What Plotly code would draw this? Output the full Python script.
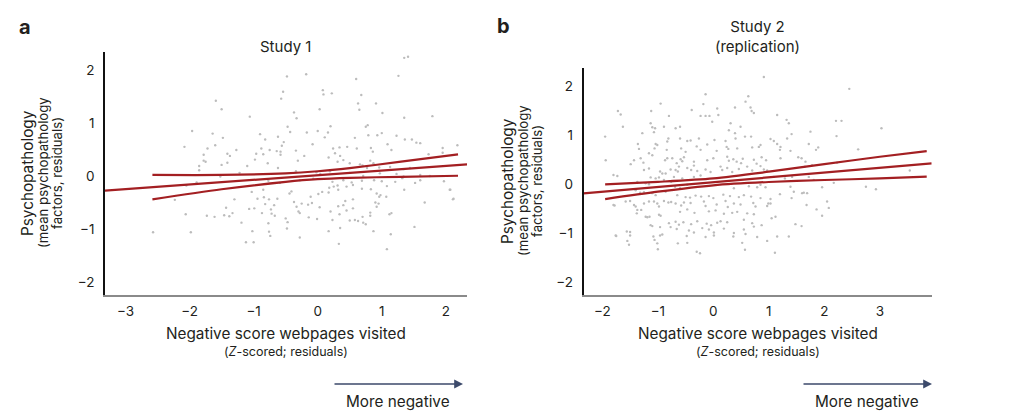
import plotly.graph_objects as go

W, H = 1013, 418

# ---------------- data ----------------
# Study 1 scatter
s1_x = [-1.59,-1.50,-1.96,-1.64,-1.48,-2.08,-1.72,-1.60,-1.78,-1.41,-1.78,-1.75,-1.85,-1.50,-1.85,-1.41,-1.52,-1.89,-2.05,-2.23,
        -1.43,-2.06,-1.73,-1.61,-1.46,-1.38,-2.57,-1.98,
        -0.48,-0.18,-0.54,-0.57,0.08,0.09,0.22,-1.06,-0.37,-0.33,0.03,-0.47,-0.43,-0.17,0.00,0.16,0.20,-0.90,-0.82,-0.62,-0.53,-0.56,
        0.11,-0.08,-1.27,-0.96,-0.85,-0.98,-0.88,-0.75,-0.64,-0.58,-0.58,-0.34,-0.31,-0.21,0.17,0.24,0.27,0.34,0.35,0.40,
        0.46,0.31,-1.37,-1.10,-0.78,-0.62,-0.34,-0.02,0.04,0.19,-1.22,-0.77,-0.59,-0.28,-0.07,0.23,0.31,0.40,0.45,-1.03,
        -0.85,-0.44,-0.41,-1.30,-0.94,-0.84,-0.76,-0.63,-0.11,0.01,0.07,0.17,0.18,0.25,0.32,-0.82,-0.68,-0.37,-0.33,-0.25,
        -0.15,-0.09,0.43,0.40,0.32,-1.33,-1.07,-0.99,-0.87,-0.73,-0.72,-0.67,-0.30,-0.28,0.03,-1.19,-0.77,-0.50,-0.47,-0.14,
        -0.01,0.20,0.34,0.23,0.45,-1.02,-0.76,-0.74,-0.28,-0.48,0.17,0.35,-1.12,-1.00,0.33,
        1.35,1.41,1.26,0.60,0.68,0.63,0.65,0.91,1.01,1.35,1.79,0.75,0.78,0.58,0.79,0.93,1.00,1.23,1.36,1.47,
        1.54,1.60,1.09,1.15,0.61,0.83,0.86,1.73,1.95,1.95,2.18,0.50,0.66,0.70,0.82,0.87,0.77,0.96,1.13,1.34,
        1.44,0.50,0.71,0.97,1.23,1.34,1.60,1.75,0.53,0.69,0.88,1.00,1.21,1.32,1.52,1.60,1.97,0.55,0.69,0.83,
        1.08,1.35,2.06,2.12,0.92,0.96,0.98,1.07,0.55,0.90,0.95,0.92,0.55,0.82,1.67,0.70,0.82,0.50,0.58,0.63,
        0.71,0.75,1.12,1.15,0.87,1.51,1.14,1.08,2.07,2.11]
s1_y = [1.42,1.26,0.85,0.80,0.72,0.55,0.52,0.58,0.40,0.42,0.29,0.27,0.19,0.21,0.11,0.25,-0.01,-0.12,-0.18,-0.45,
        -0.60,-0.72,-0.75,-0.77,-0.74,-0.76,-1.06,-1.06,
        1.88,1.92,1.59,1.46,1.62,1.54,1.56,1.12,1.20,1.09,1.26,0.93,0.83,0.82,0.85,0.82,0.94,0.79,0.69,0.74,0.64,0.57,
        0.73,0.60,0.49,0.42,0.41,0.31,0.52,0.49,0.47,0.46,0.40,0.48,0.29,0.38,0.35,0.52,0.43,0.54,0.38,0.30,
        0.55,0.27,0.38,0.19,0.24,0.15,0.09,0.07,0.04,0.09,0.06,-0.09,-0.13,-0.08,-0.05,-0.11,-0.18,-0.08,-0.20,-0.30,
        -0.26,-0.33,-0.29,-0.44,-0.43,-0.40,-0.44,-0.43,-0.39,-0.34,-0.30,-0.31,-0.22,-0.20,-0.26,-0.53,-0.55,-0.49,-0.58,-0.52,
        -0.54,-0.51,-0.47,-0.55,-0.57,-0.70,-0.62,-0.61,-0.70,-0.63,-0.71,-0.75,-0.67,-0.70,-0.59,-0.88,-0.89,-0.80,-0.87,-0.78,
        -0.81,-0.67,-0.72,-0.83,-0.65,-1.04,-1.05,-1.13,-1.16,-0.99,-1.04,-0.98,-1.25,-1.25,-1.28,
        2.23,2.25,1.89,1.83,1.53,1.37,1.25,1.37,1.19,1.10,1.13,0.93,0.96,0.72,0.77,0.77,0.81,0.76,0.69,0.69,
        0.63,0.62,0.60,0.49,0.52,0.53,0.46,0.41,0.53,0.44,0.58,0.24,0.22,0.20,0.29,0.24,0.15,0.16,0.17,0.13,
        0.15,0.06,0.00,0.05,0.04,-0.01,0.02,0.00,-0.12,-0.09,-0.08,-0.10,-0.11,-0.04,-0.13,-0.08,-0.10,-0.17,-0.24,-0.25,
        -0.19,-0.26,-0.26,-0.43,-0.33,-0.39,-0.36,-0.39,-0.44,-0.50,-0.52,-0.58,-0.61,-0.69,-0.50,-0.77,-0.75,-0.84,-0.83,-0.85,
        -0.88,-0.91,-0.72,-0.70,-1.04,-0.96,-1.10,-1.38,-0.26,-0.44]

# Study 1 fit and confidence band
s1_fit_x = [-3.32, 2.33]
s1_fit_y = [-0.277, 0.22]
s1_ci_x = [-2.58, -1.5, -0.5, 0.0, 0.5, 1.3, 2.19]
s1_ci_hi = [0.02, 0.02, 0.05, 0.09, 0.15, 0.27, 0.41]
s1_ci_lo = [-0.44, -0.25, -0.11, -0.06, -0.035, -0.015, 0.005]

# Study 2 scatter
s2_x = [-0.95,-1.72,-1.67,-1.12,-0.80,-1.63,-1.13,-1.10,-1.07,-1.05,-0.89,-1.95,-1.28,-0.81,-0.83,-1.04,-1.01,-1.06,-1.36,-1.34,
        -1.16,-1.10,-0.84,-0.83,-1.94,-1.43,-1.49,-1.31,-1.26,-0.87,-0.74,-1.25,-1.16,-0.96,-0.92,-0.86,-0.77,-1.80,-1.73,-1.13,
        -1.04,-0.98,-1.37,-1.22,-1.16,-0.89,-0.76,-1.40,-1.32,-1.25,-1.10,-1.04,-0.86,-1.78,-1.58,-1.50,-1.43,-1.40,-1.25,-1.16,
        -1.07,-1.01,-0.98,-0.89,-0.81,-0.76,-1.37,-1.38,-1.30,-1.22,-1.19,-1.15,-0.98,-0.95,-1.13,-1.10,-0.80,-0.96,-0.77,-1.56,
        -1.50,-1.50,-1.76,-0.92,-0.96,-1.08,-1.06,-1.55,-1.52,-1.01,-1.00,-1.80,-1.75,
        -0.14,0.63,-0.18,0.58,0.67,0.73,0.69,-0.39,-0.23,-0.14,-0.07,0.07,0.09,-0.02,0.39,0.31,0.49,0.28,-0.68,-0.60,
        0.57,0.68,0.39,0.40,-0.60,-0.47,-0.41,-0.26,0.02,0.22,
        -0.58,-0.50,-0.30,-0.23,-0.11,0.06,0.24,0.27,0.43,0.70,
        -0.59,-0.56,-0.53,-0.66,-0.62,-0.35,-0.35,-0.11,0.00,0.25,0.28,0.36,0.42,0.50,0.53,0.73,0.78,
        -0.68,-0.64,-0.47,-0.40,-0.29,-0.14,-0.05,0.13,0.16,0.25,0.34,0.46,0.61,0.70,
        -0.71,-0.56,-0.35,-0.23,
        -0.69,-0.60,-0.47,0.37,0.64,0.79,
        -0.65,-0.50,-0.42,-0.32,-0.22,-0.08,0.00,0.18,0.30,0.46,0.55,0.68,
        -0.68,-0.58,-0.53,-0.41,-0.17,-0.14,0.06,0.22,0.26,0.37,0.49,0.72,0.76,
        -0.60,-0.47,-0.34,-0.08,0.04,0.19,0.34,0.43,0.61,0.73,
        -0.68,-0.62,-0.54,-0.40,-0.29,-0.12,-0.04,0.07,0.13,0.25,0.55,0.70,0.73,
        -0.66,-0.44,-0.35,-0.20,-0.08,0.01,0.19,0.37,0.55,
        -0.48,-0.14,0.01,0.36,0.58,0.79,
        -0.64,-0.47,0.52,0.57,-0.30,-0.24,
        0.91,1.15,1.32,1.36,2.21,2.31,1.75,1.41,1.03,1.09,1.33,2.22,0.82,0.85,1.15,1.20,1.21,1.39,1.72,1.85,
        1.89,0.87,0.95,1.21,1.53,1.59,1.66,0.85,0.91,0.97,1.78,1.65,2.23,1.09,1.29,1.42,1.72,1.81,2.17,0.85,
        0.94,1.39,1.45,1.41,1.60,1.63,1.69,1.96,0.85,1.03,1.20,0.99,1.03,0.97,1.68,2.05,2.08,0.87,1.05,1.12,
        1.48,1.59,1.86,1.96,1.15,1.36,0.97,1.11,
        2.45,3.03,2.61,3.54,2.75,2.93]
s2_y = [1.64,1.49,1.42,1.49,1.39,1.17,1.24,1.16,1.06,1.14,1.17,0.97,1.04,0.93,0.87,0.82,0.80,0.73,0.82,0.72,
        0.63,0.59,0.70,0.53,0.49,0.49,0.41,0.53,0.44,0.49,0.53,0.29,0.32,0.26,0.22,0.22,0.30,0.19,0.17,0.14,
        0.12,0.14,0.05,0.02,0.00,0.09,0.05,-0.12,-0.17,-0.16,-0.18,-0.22,-0.15,-0.43,-0.35,-0.34,-0.42,-0.45,-0.39,-0.35,
        -0.35,-0.39,-0.45,-0.34,-0.37,-0.36,-0.52,-0.59,-0.52,-0.66,-0.67,-0.66,-0.62,-0.64,-0.83,-0.85,-0.79,-0.87,-0.87,-0.96,
        -0.97,-1.04,-1.04,-1.02,-1.04,-1.06,-1.13,-1.15,-1.23,-1.20,-1.32,-0.42,-1.05,
        1.83,1.79,1.63,1.68,1.56,1.45,1.49,1.51,1.39,1.39,1.39,1.54,1.41,1.27,1.56,1.24,1.17,1.10,1.14,1.17,
        0.97,0.97,1.04,0.93,0.93,0.88,0.89,0.93,0.90,0.88,
        0.73,0.66,0.77,0.70,0.81,0.68,0.76,0.72,0.73,0.75,
        0.51,0.47,0.55,0.43,0.36,0.46,0.38,0.49,0.53,0.56,0.48,0.51,0.46,0.43,0.52,0.50,0.42,
        0.29,0.26,0.33,0.29,0.27,0.30,0.25,0.36,0.29,0.33,0.25,0.31,0.36,0.28,
        0.15,0.12,0.15,0.18,
        -0.05,-0.08,-0.01,-0.08,-0.04,-0.06,
        -0.22,-0.26,-0.27,-0.23,-0.25,-0.24,-0.28,-0.21,-0.24,-0.26,-0.22,-0.25,
        -0.39,-0.43,-0.37,-0.38,-0.35,-0.44,-0.41,-0.34,-0.46,-0.39,-0.41,-0.38,-0.45,
        -0.56,-0.51,-0.58,-0.55,-0.53,-0.60,-0.58,-0.56,-0.59,-0.61,
        -0.76,-0.82,-0.77,-0.81,-0.75,-0.80,-0.83,-0.78,-0.75,-0.77,-0.72,-0.79,-0.86,
        -0.91,-0.94,-0.98,-0.89,-0.92,-0.98,-0.90,-0.99,-0.92,
        -1.05,-1.07,-1.04,-1.06,-1.01,-1.07,
        -1.20,-1.19,-1.19,-1.33,-1.37,-1.40,
        2.18,1.41,1.31,1.24,1.29,1.29,1.07,1.02,0.92,0.88,0.93,0.98,0.76,0.80,0.82,0.70,0.76,0.68,0.82,0.70,
        0.75,0.55,0.49,0.53,0.55,0.53,0.46,0.37,0.30,0.28,0.39,0.36,0.44,0.15,0.12,0.15,0.15,0.09,0.03,-0.01,
        -0.06,-0.05,-0.15,-0.28,-0.18,-0.17,-0.18,-0.06,-0.28,-0.30,-0.20,-0.39,-0.39,-0.44,-0.42,-0.35,-0.48,-0.83,-0.69,-0.66,
        -0.81,-0.85,-0.51,-0.64,-1.06,-1.06,-1.15,-1.39,
        1.94,1.14,0.71,0.28,-0.05,-0.10]

# Study 2 fit and confidence band
s2_fit_x = [-2.34, 3.935]
s2_fit_y = [-0.183, 0.426]
s2_ci_x = [-1.95, -1.0, 0.0, 1.0, 2.0, 3.0, 3.845]
s2_ci_hi = [0.0, 0.05, 0.12, 0.256, 0.41, 0.56, 0.676]
s2_ci_lo = [-0.30, -0.15, -0.02, 0.047, 0.087, 0.12, 0.155]

x_ticks_1 = [-3, -2, -1, 0, 1, 2]
x_ticks_2 = [-2, -1, 0, 1, 2, 3]
y_ticks = [-2, -1, 0, 1, 2]

# ---------------- styling ----------------
FONT = "Inter, Lato, 'DejaVu Sans', sans-serif"
TXT = "#231f20"
RED = "#a31f22"
DOT = "#bcbcbc"
ARROW = "#3c4a6b"

def px(x):
    return x / W

def py(y):
    return 1 - y / H

fig = go.Figure()

def add_panel(xs, ys, fx, fy, cx, chi, clo, xa, ya):
    fig.add_trace(go.Scatter(x=xs, y=ys, mode="markers", xaxis=xa, yaxis=ya,
                             marker=dict(size=2.4, color=DOT, line=dict(width=0)),
                             hoverinfo="skip", showlegend=False))
    for yy in (chi, clo):
        fig.add_trace(go.Scatter(x=cx, y=yy, mode="lines", xaxis=xa, yaxis=ya,
                                 line=dict(color=RED, width=2.2, shape="spline", smoothing=0.8),
                                 hoverinfo="skip", showlegend=False))
    fig.add_trace(go.Scatter(x=fx, y=fy, mode="lines", xaxis=xa, yaxis=ya,
                             line=dict(color=RED, width=2.2),
                             hoverinfo="skip", showlegend=False))

add_panel(s1_x, s1_y, s1_fit_x, s1_fit_y, s1_ci_x, s1_ci_hi, s1_ci_lo, "x", "y")
add_panel(s2_x, s2_y, s2_fit_x, s2_fit_y, s2_ci_x, s2_ci_hi, s2_ci_lo, "x2", "y2")

tickfont = dict(family=FONT, size=13.5, color=TXT)

def xaxis(dom, rng, ticks):
    return dict(domain=dom, range=rng, tickvals=ticks, showgrid=False, zeroline=False,
                showline=True, linecolor="#8a8a8a", linewidth=1.6, ticks="",
                tickfont=tickfont, ticklabelstandoff=3, fixedrange=True)

def yaxis(dom, rng, anchor):
    return dict(domain=dom, range=rng, tickvals=y_ticks, showgrid=False, zeroline=False,
                showline=True, linecolor="#111111", linewidth=1.6, ticks="",
                tickfont=tickfont, ticklabelstandoff=6, anchor=anchor, fixedrange=True)

fig.update_layout(
    width=W, height=H,
    margin=dict(l=0, r=0, t=0, b=0),
    paper_bgcolor="white", plot_bgcolor="white",
    font=dict(family=FONT, color=TXT),
    xaxis=dict(xaxis([px(105), px(467)], [-3.32, 2.33], x_ticks_1), anchor="y"),
    yaxis=yaxis([py(295), py(52)], [-2.245, 2.34], "x"),
    xaxis2=dict(xaxis([px(583.5), px(931.7)], [-2.34, 3.935], x_ticks_2), anchor="y2"),
    yaxis2=yaxis([py(295), py(67.7)], [-2.25, 2.37], "x2"),
)

anns = []

def text(x, y, s, size, bold=False, angle=0):
    anns.append(dict(xref="paper", yref="paper", x=px(x), y=py(y), text=("<b>%s</b>" % s) if bold else s,
                     showarrow=False, xanchor="center", yanchor="middle", textangle=angle,
                     font=dict(family=FONT, size=size, color=TXT)))

# panel letters
text(25, 27, "a", 20, bold=True)
text(503, 26, "b", 20, bold=True)

# titles
text(285, 47, "Study 1", 15)
text(757.5, 36, "Study 2<br>(replication)", 15)

# x axis titles
for cx in (286, 757.5):
    text(cx, 333, "Negative score webpages visited", 15.3)
    text(cx, 351, "(<i>Z</i>-scored; residuals)", 12.5)

# y axis titles
for (x0, cy) in ((27, 173), (507, 181)):
    text(x0, cy, "Psychopathology", 15.3, angle=-90)
    text(x0 + 16, cy, "(mean psychopathology", 13.2, angle=-90)
    text(x0 + 30, cy, "factors, residuals)", 13.2, angle=-90)

# arrows
for (x0, x1, tx) in ((333, 463, 398), (802, 932, 867)):
    anns.append(dict(xref="paper", yref="paper", x=px(x1), y=py(384), ax=-(x1 - x0), ay=0,
                     axref="pixel", ayref="pixel", text="", showarrow=True,
                     arrowhead=2, arrowsize=1.1, arrowwidth=1.6, arrowcolor=ARROW))
    text(tx, 401, "More negative", 15.3)

fig.update_layout(annotations=anns)

fig.write_html("out.html", config={"displayModeBar": False},
               post_script="document.body.style.margin='0px';document.body.style.padding='0px';")
